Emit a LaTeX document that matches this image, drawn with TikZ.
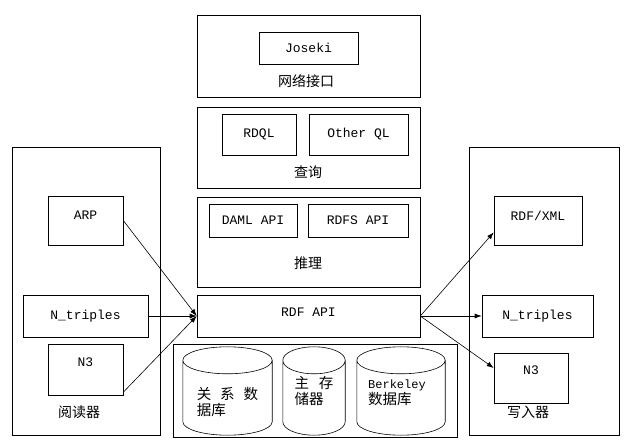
\documentclass[tikz,border=0pt]{standalone}
\usepackage{fontspec}
\setmonofont{Liberation Mono}
\newfontfamily\cjk{Noto Sans CJK SC}
\usepackage{tikz}
\usetikzlibrary{arrows.meta,positioning,calc}
\tikzset{
    layerBox/.style={
        rectangle,
        draw,
        line width=0.6pt,
        inner sep=0pt
    },
    modBox/.style={
        layerBox,
        font=\fontsize{13}{15}\selectfont\ttfamily,
        align=center
    },
    dbSlot/.style={rectangle, inner sep=0pt, minimum height=88},
    dbLine/.style={line width=0.6pt},
    cnLabel/.style={font=\fontsize{14}{16}\selectfont\cjk, inner sep=1pt},
    dbText/.style={align=left, inner sep=0pt, font=\fontsize{14.5}{16.5}\selectfont\cjk},
    % Arrows
    flowArr/.style={-{Latex[length=7pt,width=5pt]}, line width=0.6pt}
}
\begin{document}
\begin{tikzpicture}[x=1pt, y=-1pt]
\useasboundingbox (0,0) rectangle (625,441);

% Network interface
\node[layerBox, minimum width=223, minimum height=82] (net) at (308.5,56) {};
\node[modBox, minimum width=99, minimum height=32] (joseki) at (308.5,48) {Joseki};
\node[cnLabel] (netLbl) at (306,81) {网络接口};

% Query
\node[layerBox, minimum width=223, minimum height=81] (query) at (308.5,147.5) {};
\node[modBox, minimum width=74, minimum height=41] (rdql) at (259,134.5) {RDQL};
\node[modBox, minimum width=99, minimum height=41] (otherql) at (358.5,134.5) {Other QL};
\node[cnLabel] (queryLbl) at (308,172) {查询};

% Inference
\node[layerBox, minimum width=223, minimum height=90] (infer) at (308.5,242) {};
\node[modBox, minimum width=88, minimum height=33] (daml) at (253,220.5) {DAML API};
\node[modBox, minimum width=100, minimum height=33] (rdfs) at (358,220.5) {RDFS API};
\node[cnLabel] (inferLbl) at (308,263) {推理};

% Core API
\node[modBox, minimum width=223, minimum height=42, text depth=8pt] (rdfapi) at (308.5,316) {RDF API};

% Storage
\node[layerBox, minimum width=284, minimum height=93] (store) at (315,390.5) {};
\node[dbSlot, minimum width=89] (db1) at (227.5,391) {};
\node[dbSlot, minimum width=62] (db2) at (314,391) {};
\node[dbSlot, minimum width=88] (db3) at (401,391) {};
\foreach \d in {db1,db2,db3} {
    \draw[dbLine] let \p1=(\d.north west), \p2=(\d.south east), \n1={(\x2-\x1)/2} in
        (\x1,\y1-13.5pt) -- (\x1,\y2+13.5pt)
        arc[start angle=180, end angle=360, x radius=\n1, y radius=13.5pt]
        -- (\x2,\y1-13.5pt)
        arc[start angle=0, end angle=180, x radius=\n1, y radius=13.5pt]
        arc[start angle=180, end angle=360, x radius=\n1, y radius=13.5pt];
}
\node[dbText] (db1Txt) at ([yshift=-11]db1.center) {关\hspace{9pt}系\hspace{9pt}数\\据库};
\node[dbText] (db2Txt) at ([yshift=0]db2.center) {主\hspace{10pt}存\\储器};
\node[dbText] (db3Txt) at ([xshift=-4,yshift=-2]db3.center) {{\fontsize{12}{14}\selectfont\ttfamily Berkeley}\\数据库};

% Readers
\node[layerBox, minimum width=148, minimum height=288] (reader) at (86,291) {};
\node[modBox, minimum width=75, minimum height=49, text depth=10pt] (arp) at (85.5,220.5) {ARP};
\node[modBox, minimum width=125, minimum height=42] (ntrR) at (85.5,316) {N\_triples};
\node[modBox, minimum width=75, minimum height=51, text depth=14pt] (n3R) at (85.5,369.5) {N3};
\node[cnLabel] (readerLbl) at (79,412) {阅读器};

% Writers
\node[layerBox, minimum width=150, minimum height=288] (writer) at (544,291) {};
\node[modBox, minimum width=88, minimum height=49, text depth=10pt] (rdfxml) at (538,220.5) {RDF/XML};
\node[modBox, minimum width=111, minimum height=42] (ntrW) at (537.5,316) {N\_triples};
\node[modBox, minimum width=74, minimum height=50, text depth=16pt] (n3W) at (531,378) {N3};
\node[cnLabel] (writerLbl) at (528,412) {写入器};

% Reader arrows
\draw[flowArr] (arp.east) -- (rdfapi.west);
\draw[flowArr] (ntrR.east) -- (rdfapi.west);
\draw[flowArr] (n3R.-31) -- (rdfapi.west);

% Writer arrows
\draw[flowArr] (rdfapi.east) -- (rdfxml.195);
\draw[flowArr] (rdfapi.east) -- (ntrW.west);
\draw[flowArr] (rdfapi.east) -- (n3W.165);
\end{tikzpicture}
\end{document}
